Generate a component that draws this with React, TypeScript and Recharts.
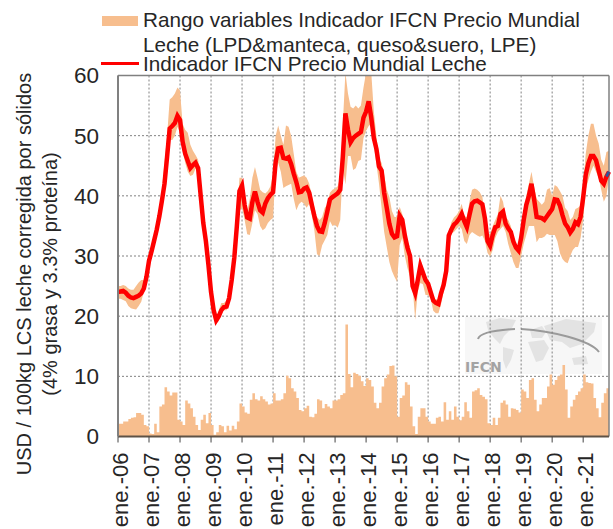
import React from 'react'
import { ComposedChart, Area, Line, XAxis, YAxis, CartesianGrid, ReferenceLine } from 'recharts'

const FONT = '"Liberation Sans", Arial, sans-serif'
const BAND = '#F7BE8E'
const INK = '#262626'

// monthly, ene.-06 to oct.-21, one row per year
const indicator = [
  24, 24.1, 24.2, 23.9, 23.4, 23.1, 23, 23.2, 23.4, 23.8, 24.6, 26.5,
  29.2, 30.8, 32.6, 34.4, 36.6, 39.2, 42, 46.5, 51.2, 51.6, 52.1, 53.3,
  52.6, 49, 47, 45.8, 44.6, 45.1, 45.5, 44.6, 40, 35.5, 32.5, 28.5,
  24, 21, 19.3, 20, 21, 21.5, 21.6, 23, 26, 29.7, 35, 40.8,
  41.7, 38.5, 36.4, 36.2, 39, 40.7, 39, 37.6, 37.2, 38.7, 39.6, 40.2,
  40.6, 45.6, 47.9, 48, 46.3, 46.2, 46.4, 45.3, 43.7, 42.3, 40.6, 40.7,
  41.2, 41.4, 40.5, 38.5, 36.6, 35, 34.1, 34, 35.5, 37.4, 39.4, 39.8,
  40.1, 40.4, 41, 46.5, 53.7, 51, 48.9, 49.6, 50, 50.3, 50.6, 53,
  54, 55.7, 53, 49.6, 47.8, 44.9, 44.2, 40.5, 38, 35.4, 33.7, 33.1,
  33.3, 36.7, 36, 33.4, 31.4, 30, 25, 23.8, 26, 28.4, 27.2, 26,
  25.4, 24, 22.6, 22.2, 22, 23.8, 25.2, 27.5, 33.4, 34.4, 35.2, 35.6,
  36.2, 37, 35.8, 34.8, 36.8, 38.7, 39.1, 39.2, 38.9, 38.6, 36.2, 32.5,
  31.7, 33.5, 34.8, 35, 37, 37.4, 35.4, 34.6, 34, 32.4, 31.4, 30.9,
  33, 36, 38.5, 40, 42, 39.5, 36.5, 36.4, 36.3, 36, 36.6, 37.2,
  37.8, 39.4, 39.3, 38.4, 36.8, 35.4, 34.8, 33.9, 34.5, 35.6, 35.3, 36.5,
  39.7, 43.5, 45.4, 46.6, 46.6, 45.9, 44.2, 42.5, 42, 43.2, 44,
]

const rangeHigh = [
  25, 25, 25.2, 25, 24.6, 24.4, 24.4, 25, 25.6, 26, 26, 27.5,
  29.8, 31.2, 33.6, 35, 38, 41, 45.5, 50, 56, 56.4, 57, 58,
  57.5, 52, 51, 50.5, 48.5, 47.5, 46.8, 46, 42.5, 37, 34.5, 31,
  26, 21.6, 19.8, 21, 22.2, 22.2, 22.6, 23.6, 27, 30.5, 36.5, 43,
  43, 40, 37.5, 39.5, 43, 44.8, 43, 41, 40.6, 40.4, 40.8, 41.6,
  43.5, 50, 51.7, 50, 48.5, 51.7, 51.5, 50, 47, 44, 43, 43.2,
  43.4, 43, 42, 40, 38, 36.5, 36, 36.5, 38, 38.5, 40.5, 41,
  41.2, 41.6, 43, 52, 60.5, 57, 54.8, 54.5, 55, 54.5, 55, 58,
  60.5, 61, 60.5, 54, 50, 46, 45.5, 43.5, 41, 39.8, 37.5, 36.5,
  36.5, 38.2, 37, 35, 32.5, 31.5, 27, 24.3, 27, 29.5, 28, 26.8,
  26, 25, 23, 22.8, 22.8, 24.5, 27, 28, 34, 35.6, 36.4, 36.8,
  37.5, 38.7, 36.6, 36.5, 39, 41, 41.2, 41, 40.6, 39.8, 37, 33.5,
  33.7, 35, 36, 37, 40, 39, 36.5, 36, 35, 33, 32, 31.5,
  34, 37, 40, 42, 44, 41.5, 39.5, 39, 38.5, 39, 41, 41.3,
  40, 41.8, 41.5, 40.8, 40, 38, 37.5, 36, 36.5, 37.8, 38, 38.4,
  42, 47, 50, 52, 52, 50, 48.7, 46, 45, 47.3, 47.5,
]

const rangeLow = [
  22.9, 22.9, 22.7, 22.5, 21.7, 21.3, 21.2, 21.1, 21.7, 22.4, 24.1, 25.8,
  29.3, 30.8, 31.5, 34, 36, 38.5, 41, 45.5, 49.3, 49.3, 50, 51.5,
  50.5, 47.5, 45.5, 44, 43.3, 43.5, 44.5, 43.8, 38, 34, 31, 27.5,
  23.5, 20.5, 18.8, 19.2, 20.4, 21, 21, 22, 25, 29, 34, 37.5,
  38, 36, 33.6, 33.5, 35.5, 37.6, 37, 35, 34.3, 34.6, 35.5, 36,
  36.3, 44, 45.5, 44, 41.3, 41.6, 41.8, 42, 39.5, 37.6, 38.6, 39,
  38.7, 38, 38.7, 36.8, 34.2, 30.3, 30, 31.8, 32.6, 33.5, 35.8, 35,
  35.2, 34.7, 36, 44.8, 41.9, 46.6, 46.6, 44.3, 44.6, 45.8, 46, 49.6,
  50.8, 51.6, 52, 48.4, 45.3, 42, 38, 34, 31.5, 29, 27.5, 26.5,
  25.7, 31.8, 33, 30, 28, 26.5, 25, 19.4, 24, 25.5, 25.3, 23.5,
  23.5, 22.9, 20.9, 20.5, 20.5, 22, 24, 26, 33, 33.8, 34, 34.5,
  35, 34.5, 32.5, 32, 33.5, 34, 33.7, 33.4, 33.2, 33.4, 32.5, 30.5,
  29.9, 31, 33, 34, 34.5, 35, 34, 32, 30.5, 29, 28, 28,
  30, 32, 33.5, 35, 35, 35, 32.3, 33, 33, 33.2, 33.7, 33.5,
  33.5, 33.5, 32.5, 30.5, 29.5, 29, 28.8, 30, 31, 31.5, 31.5, 33,
  36, 41, 42.6, 44, 45, 44, 43, 41, 39, 40, 43,
]

const rangeWidth = [
  2.1, 2.1, 2.5, 2.5, 2.9, 3.1, 3.2, 3.9, 3.9, 3.6, 1.9, 1.7,
  0.5, 0.4, 2.1, 0.7, 5, 5.3, 8.2, 7.5, 6.8, 7.3, 7.3, 2.8,
  2.5, 1.9, 6, 5.5, 4.7, 3.3, 1.9, 1.1, 2.8, 3.6, 2.2, 3.9,
  1.9, 0.3, 0.7, 1.9, 1.7, 0.7, 1.8, 1, 1.8, 1.2, 2.5, 5.5,
  5, 4, 3.8, 6.1, 7.2, 6.2, 6, 6.7, 6.2, 5.8, 5.3, 5.5,
  7.2, 6, 6, 6.2, 7.2, 10.1, 9.7, 8, 7.5, 6.4, 4.4, 4.2,
  4.7, 5.1, 3.3, 3.2, 3.8, 6.2, 6, 4.7, 5.4, 5, 4.7, 6,
  6, 6.2, 6.9, 7.2, 18.6, 10.4, 8.2, 10.6, 10.4, 10.1, 9.2, 8.4,
  9.7, 9.4, 8.3, 5.6, 4.7, 5.6, 8.3, 9.7, 10.3, 11.7, 11.8, 10,
  3.3, 6.4, 6.8, 9, 8.6, 5, 1.7, 0.4, 3.3, 4.7, 4.7, 3.3,
  2.5, 2.1, 2.1, 3.1, 3.3, 2.5, 5.7, 2.8, 4.2, 2.8, 5, 3.3,
  2.7, 3.3, 5.7, 4.2, 3.1, 7.5, 7.7, 8, 6.9, 6.6, 6.2, 2.2,
  1.9, 3.1, 1.9, 3.1, 5.6, 6, 5.3, 3.3, 4.7, 4.6, 4.4, 4,
  7.8, 7.5, 6.4, 9.4, 9.7, 6.1, 4.2, 5.3, 6.4, 6.4, 8.3, 10.3,
  8.6, 9.4, 10, 10.3, 11.9, 7.8, 3.1, 5, 6.1, 6.9, 7.5, 8,
  10.3, 9, 8.9, 8.8, 6.4, 4.7, 3.2, 5.6, 7.2, 8, 8,
]

const yearTicks = [0, 12, 24, 36, 48, 60, 72, 84, 96, 108, 120, 132, 144, 156, 168, 180]
const yearLabels = ['ene.-06', 'ene.-07', 'ene.-08', 'ene.-09', 'ene.-10', 'ene.-11', 'ene.-12', 'ene.-13', 'ene.-14', 'ene.-15', 'ene.-16', 'ene.-17', 'ene.-18', 'ene.-19', 'ene.-20', 'ene.-21']
const valueTicks = [0, 10, 20, 30, 40, 50, 60]

const rows = indicator.map((v, i) => ({
  month: i,
  indicator: v,
  range: [rangeLow[i], rangeHigh[i]],
  width: rangeWidth[i],
  tail: i >= indicator.length - 2 ? v : null,
}))

const YearTick = ({ x, y, payload }: any) => {
  const label = yearLabels[yearTicks.indexOf(payload.value)]
  return (
    <text transform={`translate(${x + 9.5},${y + 8}) rotate(-90)`} textAnchor="end" fontSize={22} fontFamily={FONT} fill={INK}>
      {label}
    </text>
  )
}

// faded IFCN logo that sits behind the plot
const Watermark = () => (
  <svg width={613} height={529} style={{ position: 'absolute', left: 0, top: 0 }}>
    <rect x={465} y={317} width={137} height={57} fill="#F7F7F7" />
    <g fill="#E3E3E3">
      <path d="M486 322 L500 318 L516 320 L512 328 L504 336 L500 344 L494 338 L488 330 Z" />
      <path d="M503 347 L514 350 L511 360 L506 369 L503 360 Z" />
      <path d="M530 330 L542 326 L546 332 L542 338 L532 338 Z" />
      <path d="M528 342 L544 340 L549 348 L543 360 L536 362 L532 352 Z" />
      <path d="M544 326 L566 319 L596 323 L594 332 L582 344 L570 348 L562 342 L550 340 Z" />
      <path d="M572 358 L586 356 L588 364 L574 365 Z" />
    </g>
    <path d="M478 339 C480 332 498 330 515 329" fill="none" stroke="#9A9A9A" strokeWidth={2} />
    <path d="M521 329 C552 331 590 340 599 352" fill="none" stroke="#9A9A9A" strokeWidth={2} />
    <text x={465} y={372} fontSize={14} fontWeight="bold" fontFamily={'"DejaVu Sans", sans-serif'} fill="#A3A3A3">IFCN</text>
  </svg>
)

const legendText: React.CSSProperties = { position: 'absolute', left: 143, fontSize: 20.7, lineHeight: '24px', whiteSpace: 'nowrap', color: INK }

export default function App() {
  return (
    <div style={{ position: 'absolute', left: 0, top: 0, width: 613, height: 529, background: '#fff', fontFamily: FONT, overflow: 'hidden' }}>
      <Watermark />
      <ComposedChart
        width={613}
        height={529}
        data={rows}
        margin={{ top: 75.5, right: 4, bottom: 0, left: 0 }}
        style={{ position: 'absolute', left: 0, top: 0 }}
      >
        <CartesianGrid stroke="#808080" strokeDasharray="2 2" verticalValues={yearTicks} horizontalValues={valueTicks} />
        <XAxis
          dataKey="month"
          type="number"
          domain={[0, 190]}
          ticks={yearTicks}
          interval={0}
          height={92.5}
          axisLine={{ stroke: '#5E5246', strokeWidth: 2 }}
          tickLine={{ stroke: '#444' }}
          tickSize={6}
          tick={<YearTick />}
        />
        <YAxis
          type="number"
          domain={[0, 60]}
          ticks={valueTicks}
          width={118}
          allowDataOverflow
          axisLine={{ stroke: '#808080', strokeWidth: 2 }}
          tickLine={false}
          tick={{ fontSize: 22.5, fontFamily: FONT, fill: INK }}
          tickMargin={13}
        />
        <ReferenceLine y={60} stroke="#808080" strokeWidth={1.5} />
        <ReferenceLine x={190} stroke="#808080" strokeWidth={1.5} />
        <Area dataKey="range" stroke="none" fill={BAND} fillOpacity={1} isAnimationActive={false} dot={false} activeDot={false} />
        <Area dataKey="width" type="stepAfter" stroke="none" fill={BAND} fillOpacity={1} isAnimationActive={false} dot={false} activeDot={false} />
        <Line dataKey="indicator" stroke="#FF0000" strokeWidth={4.5} dot={false} activeDot={false} isAnimationActive={false} />
        <Line dataKey="tail" stroke="#2F5597" strokeWidth={3} dot={false} activeDot={false} isAnimationActive={false} />
      </ComposedChart>

      <div style={{ position: 'absolute', left: 102, top: 16, width: 36, height: 10, background: BAND }} />
      <div style={{ position: 'absolute', left: 101, top: 61.5, width: 38, height: 3.5, background: '#FF0000' }} />
      <div style={{ ...legendText, top: 8 }}>Rango variables Indicador IFCN Precio Mundial</div>
      <div style={{ ...legendText, top: 33 }}>Leche (LPD&amp;manteca, queso&amp;suero, LPE)</div>
      <div style={{ ...legendText, top: 52 }}>Indicador IFCN Precio Mundial Leche</div>

      <svg width={70} height={529} style={{ position: 'absolute', left: 0, top: 0 }}>
        <text transform="translate(31,274) rotate(-90)" textAnchor="middle" fontSize={20} fontFamily={FONT} fill={INK}>
          USD / 100kg LCS leche corregida por sólidos
        </text>
        <text transform="translate(57,274) rotate(-90)" textAnchor="middle" fontSize={20} fontFamily={FONT} fill={INK}>
          (4% grasa y 3.3% proteína)
        </text>
      </svg>
    </div>
  )
}
